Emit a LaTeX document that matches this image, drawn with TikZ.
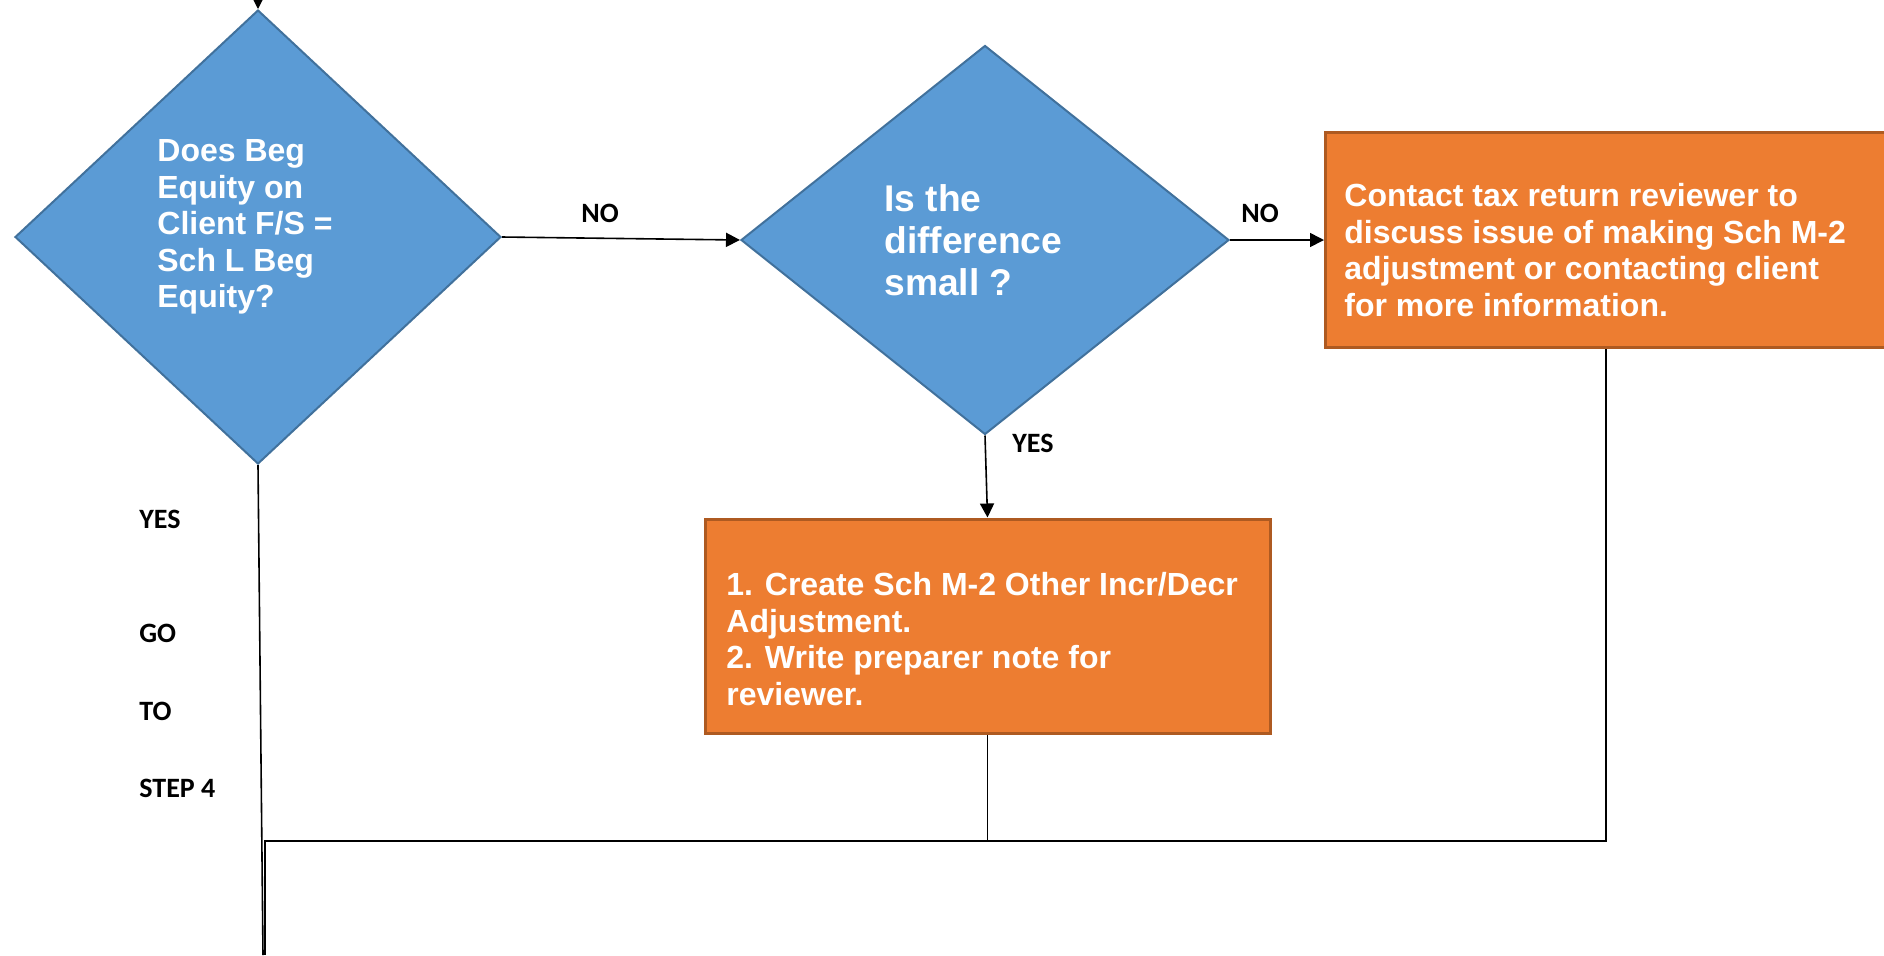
\documentclass[tikz,border=0pt]{standalone}
\usepackage{fontspec}
\setmainfont{Liberation Sans}
\newfontfamily\lblfont{Carlito}
\usetikzlibrary{shapes,arrows.meta,positioning,calc}
\definecolor{qblue}{HTML}{5B9BD5}
\definecolor{qblueline}{HTML}{41719C}
\definecolor{qorange}{HTML}{ED7D31}
\definecolor{qorangeline}{HTML}{AE5A21}

\begin{document}
\begin{tikzpicture}[x=0.5pt,y=-0.5pt,
  decision/.style={diamond, fill=qblue, draw=qblueline, line width=1pt, inner sep=0pt},
  action/.style={rectangle, fill=qorange, draw=qorangeline, line width=1.5pt, inner sep=0pt},
  intext/.style={text=white, font=\bfseries\fontsize{16}{18.3}\selectfont, align=left, anchor=west, inner sep=0pt},
  lbl/.style={font=\lblfont\bfseries\fontsize{14}{16}\selectfont, inner sep=0pt},
  conn/.style={line width=0.8pt},
  >={Triangle[length=7pt,width=7pt]}]
\clip (0,0) rectangle (1884,955);

% shapes
\node[decision, minimum width=243pt, minimum height=227pt] (beg) at (258,237) {};
\node[decision, minimum width=244pt, minimum height=194.5pt] (small) at (985,240) {};
\node[action, minimum width=400pt, minimum height=107.5pt, anchor=north west] (contact) at (1324,131) {};
\node[action, minimum width=282.5pt, minimum height=107pt] (create) at (987.5,626) {};

% texts
\node[intext] (begtxt) at (157,227) {Does Beg\\Equity on\\Client F/S =\\Sch L Beg\\Equity?};
\node[intext, font=\bfseries\fontsize{18.6}{21}\selectfont] (smalltxt) at (884,240) {Is the\\difference\\small ?};
\node[intext] (contacttxt) at (1344,250) {Contact tax return reviewer to\\discuss issue of making Sch M-2\\adjustment or contacting client\\for more information.};
\node[intext] (createtxt) at (726,639) {1. Create Sch M-2 Other Incr/Decr\\Adjustment.\\2. Write preparer note for\\reviewer.};

% labels
\node[lbl] (no1) at (600,213) {NO};
\node[lbl] (no2) at (1260,213) {NO};
\node[lbl] (yes2) at (1033,443) {YES};
\node[lbl, anchor=west] (yes1) at (139,519) {YES};
\node[lbl, anchor=west] (go) at (139,633) {GO};
\node[lbl, anchor=west] (to) at (139,711) {TO};
\node[lbl, anchor=west] (step) at (139,788) {STEP 4};

% connectors
\coordinate (entry) at (258,0);
\coordinate (exit) at (263,955);
\coordinate (merge) at (265,841);
\coordinate (down) at (265,955);
\draw[conn,->] (entry) -- (beg.north);
\draw[conn,->] (beg.east) -- (small.west);
\draw[conn,->] (small.east) -- (contact.west);
\draw[conn,->] (small.south) -- (create.north);
\draw[conn] (beg.south) -- (exit);
\draw[conn] (create.south) |- (merge) -- (down);
\draw[conn] ($(contact.south west)+(282,0)$) |- (create.south |- merge);
\end{tikzpicture}
\end{document}
